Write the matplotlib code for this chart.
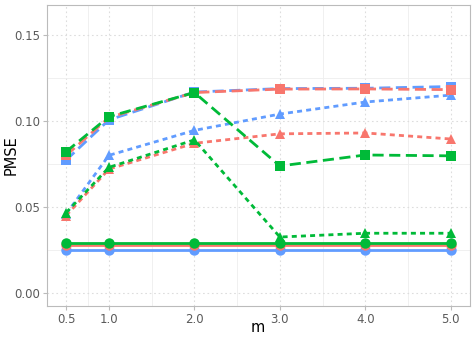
import numpy as np
import matplotlib
matplotlib.use("Agg")
import matplotlib.pyplot as plt

m = [0.5, 1.0, 2.0, 3.0, 4.0, 5.0]

# squares (long dash)
sq_red = [0.080, 0.102, 0.1165, 0.1185, 0.1186, 0.1182]
sq_blue = [0.0773, 0.1006, 0.1168, 0.1188, 0.1190, 0.1200]
sq_green = [0.0822, 0.1025, 0.1165, 0.0738, 0.0802, 0.0797]
# triangles (short dash)
tr_red = [0.0450, 0.0720, 0.0870, 0.0925, 0.0930, 0.0895]
tr_blue = [0.0460, 0.0800, 0.0945, 0.1040, 0.1110, 0.1150]
tr_green = [0.0467, 0.0730, 0.0890, 0.0325, 0.0347, 0.0347]
# circles (solid)
ci_red = [0.0279] * 6
ci_blue = [0.0252] * 6
ci_green = [0.0289] * 6

RED, BLUE, GREEN = "#F8766D", "#619CFF", "#00BA38"

fig = plt.figure(figsize=(4.76, 3.4), dpi=100)
ax = fig.add_axes([47 / 476, 34 / 340, 423 / 476, 301 / 340])

long_dash = (0, (4, 2))
short_dash = (0, (1.8, 1.5))

series = [
    (ci_blue, BLUE, "-", "o"), (ci_red, RED, "-", "o"), (ci_green, GREEN, "-", "o"),
    (tr_blue, BLUE, short_dash, "^"), (tr_red, RED, short_dash, "^"), (tr_green, GREEN, short_dash, "^"),
    (sq_blue, BLUE, long_dash, "s"), (sq_red, RED, long_dash, "s"), (sq_green, GREEN, long_dash, "s"),
]
for vals, col, ls, mk in series:
    ax.plot(m, vals, color=col, linestyle=ls, linewidth=2.0, marker=mk,
            markersize=7.5, markeredgewidth=0)

ax.set_xlim(0.275, 5.225)
ax.set_ylim(-0.0076, 0.1674)
ax.set_xticks(m)
ax.set_xticklabels(["0.5", "1.0", "2.0", "3.0", "4.0", "5.0"])
ax.set_yticks([0.0, 0.05, 0.10, 0.15])
ax.set_yticklabels(["0.00", "0.05", "0.10", "0.15"])
ax.set_xticks([0.75, 1.5, 2.5, 3.5, 4.5], minor=True)
ax.set_yticks([0.025, 0.075, 0.125], minor=True)
ax.grid(which="major", color="#DDDDDD", linestyle=(0, (1.5, 2.5)), linewidth=0.8)
ax.grid(which="minor", color="#EEEEEE", linestyle="-", linewidth=0.6)
ax.set_axisbelow(True)
ax.tick_params(which="both", length=0)
ax.tick_params(which="major", length=3, color="#BBBBBB", labelsize=8.5, labelcolor="#5A5A5A", pad=2)
for s in ax.spines.values():
    s.set_color("#BBBBBB")
    s.set_linewidth(0.8)
fig.text(258 / 476, 1 - 328 / 340, "m", fontsize=10.5, ha="center", va="center")
fig.text(11 / 476, 1 - 155 / 340, "PMSE", fontsize=10.5, ha="center", va="center", rotation=90)

fig.savefig("out.png", dpi=100)
